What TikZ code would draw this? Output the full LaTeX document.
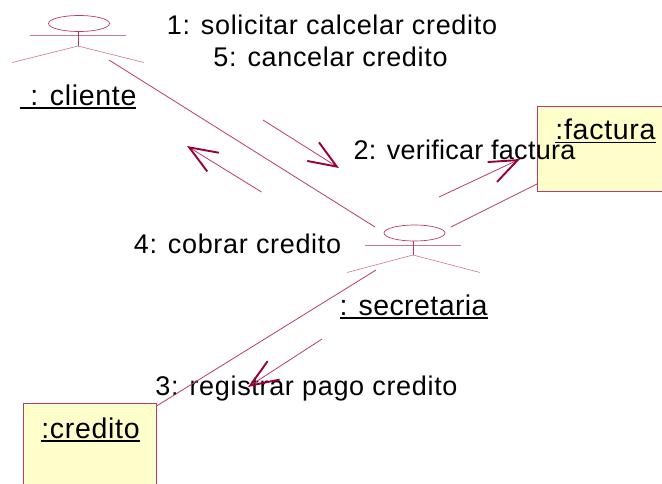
\documentclass[tikz,border=0pt]{standalone}
\usepackage{fontspec}
\setmainfont[LetterSpace=2.5]{Liberation Sans}
\usepackage{tikz}
\usetikzlibrary{positioning,arrows.meta,shapes.geometric}
\definecolor{linea}{RGB}{184,60,105}
\definecolor{punta}{RGB}{153,0,51}
\definecolor{nota}{RGB}{255,255,204}
\newcommand{\subraya}[1]{\setbox0\hbox{#1}\rlap{\rule[-3.8pt]{\wd0}{1.7pt}}\box0}

\begin{document}
\begin{tikzpicture} [x=1pt, y=-1pt, thick,
                    rotulo/.style={font=\fontsize{27}{30}\selectfont, text=black, inner sep=0pt},
                    etiqueta/.style={font=\fontsize{28.5}{30}\selectfont, text=black, inner sep=0pt},
                    cabeza/.style={ellipse,draw=linea,line width=0.7pt,minimum width=61pt,minimum height=16pt,inner sep=0pt},
                    caja/.style={rectangle,draw=linea,line width=1pt,fill=nota,anchor=north west,inner sep=0pt},
                    enlace/.style={draw=linea,line width=0.8pt},
                    parte/.style={draw=linea!70,line width=0.6pt},
                    mensaje/.style={draw=linea,line width=0.8pt,-{Straight Barb[length=28pt,width=22pt,line width=1.9pt,color=punta]}}]
\useasboundingbox (0,0) rectangle (662,483);

% cajas
\node[caja,minimum width=140pt,minimum height=85pt] (FAC) at (537,106) {};
\node[caja,minimum width=133pt,minimum height=90pt] (CRE) at (22.5,403) {};

% actores
\node[cabeza] (CLI) at (79,23.5) {};
\coordinate (CLIa) at (30,35);
\coordinate (CLIb) at (126,35);
\coordinate (CLIc) at (78,46);
\coordinate (CLId) at (12,62.5);
\coordinate (CLIe) at (144,62.5);
\node[cabeza] (SEC) at (414.5,233) {};
\coordinate (SECa) at (365,245);
\coordinate (SECb) at (461,245);
\coordinate (SECc) at (413,255);
\coordinate (SECd) at (347,272.5);
\coordinate (SECe) at (480,272.5);

\path[parte]
    (CLIa) edge (CLIb)
    (CLIc) edge (CLId)
    (CLIc) edge (CLIe)
    (SECa) edge (SECb)
    (SECc) edge (SECd)
    (SECc) edge (SECe);
\draw[enlace] (CLI.south -| CLIc) -- (CLIc);
\draw[enlace] (SEC.south -| SECc) -- (SECc);

% textos
\node[rotulo] (M1) at (332,25) {1: solicitar calcelar credito};
\node[rotulo] (M5) at (330.5,57) {5: cancelar credito};
\node[rotulo] (M2) at (464.5,150) {\addfontfeature{LetterSpace=1}2: verificar factura};
\node[rotulo] (M4) at (237.5,244) {4: cobrar credito};
\node[rotulo] (M3) at (306.5,389) {3: registrar pago credito};
\node[etiqueta,anchor=base west] (NCLI) at (20,105) {\subraya{\hspace{10pt}: cliente}};
\node[etiqueta,anchor=base east] (NSEC) at (488,315) {\subraya{\addfontfeature{LetterSpace=1.5}: secretaria}};
\node[etiqueta,anchor=base] (NFAC) at (605.5,139.5) {\subraya{:factura}};
\node[etiqueta,anchor=base] (NCRE) at (90.5,438) {\subraya{:credito}};

% enlaces
\coordinate (E1a) at (109,60);
\coordinate (E1b) at (375,227);
\coordinate (E2a) at (451,227);
\coordinate (E2b) at (537,184);
\coordinate (E3a) at (376,270);
\coordinate (E3b) at (157,405.7);
\path[enlace]
    (E1a) edge (E1b)
    (E2a) edge (E2b)
    (E3a) edge (E3b);

% mensajes
\coordinate (A1a) at (263,120);
\coordinate (A1b) at (339,168);
\coordinate (A4a) at (261.5,192);
\coordinate (A4b) at (187,146);
\coordinate (A2a) at (439,197);
\coordinate (A2b) at (520,159);
\coordinate (A3a) at (322,339);
\coordinate (A3b) at (248,387);
\draw[mensaje] (A1a) -- (A1b);
\draw[mensaje] (A4a) -- (A4b);
\draw[mensaje] (A2a) -- (A2b);
\draw[mensaje] (A3a) -- (A3b);
\end{tikzpicture}
\end{document}
